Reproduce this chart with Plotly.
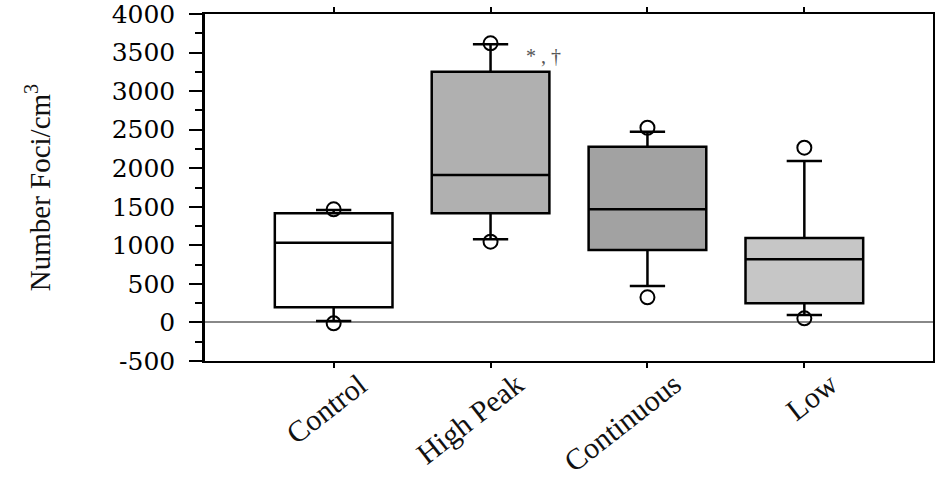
import plotly.graph_objects as go

categories = ["Control", "High Peak", "Continuous", "Low"]
q1 = [196, 1415, 939, 248]
median = [1034, 1912, 1467, 818]
q3 = [1415, 3252, 2279, 1095]
whisker_low = [18, 1078, 472, 96]
whisker_high = [1458, 3607, 2473, 2093]
point_low = [-12, 1047, 326, 53]
point_high = [1467, 3620, 2525, 2266]
fill_colors = ["#ffffff", "#b0b0b0", "#a2a2a2", "#c6c6c6"]
y_ticks = [-500, 0, 500, 1000, 1500, 2000, 2500, 3000, 3500, 4000]
y_tick_labels = ["-500", "0", "500", "1000", "1500", "2000", "2500", "3000", "3500", "4000"]

fig = go.Figure()
positions = list(range(len(categories)))
for i, cat in enumerate(categories):
    fig.add_trace(go.Box(
        x=[i], q1=[q1[i]], median=[median[i]], q3=[q3[i]],
        lowerfence=[whisker_low[i]], upperfence=[whisker_high[i]],
        width=0.75, whiskerwidth=0.3, fillcolor=fill_colors[i],
        line=dict(color="black", width=2.5), boxpoints=False,
        name=cat, showlegend=False, hoverinfo="skip"))

fig.add_trace(go.Scatter(
    x=positions + positions, y=point_low + point_high, mode="markers",
    marker=dict(symbol="circle-open", size=14, color="black", line=dict(width=2)),
    showlegend=False, hoverinfo="skip"))

fig.add_annotation(x=1.34, y=3455, text="* , †", showarrow=False,
                   font=dict(family="Liberation Serif", size=20, color="#555555"))

# category labels, rotated, placed at the x-axis category positions
for i, cat in enumerate(categories):
    fig.add_annotation(x=i, y=0, xref="x", yref="paper", text=cat, showarrow=False,
                       textangle=-38, xanchor="right", yanchor="top", xshift=42, yshift=-3,
                       font=dict(family="Liberation Serif", size=30, color="#111"))

fig.update_layout(
    width=935, height=480,
    margin=dict(l=205, r=2, t=14, b=119),
    paper_bgcolor="white", plot_bgcolor="white",
    font=dict(family="Liberation Serif", color="black"),
)
fig.update_xaxes(
    range=[-0.82, 3.82], tickmode="array", tickvals=positions, ticktext=categories,
    showticklabels=False,
    ticks="outside", ticklen=5, tickwidth=2, tickcolor="black",
    showline=True, linecolor="black", linewidth=2, mirror="ticks",
    showgrid=False, zeroline=False, automargin=False)
fig.update_yaxes(
    range=[-500, 4000], tickmode="array", tickvals=y_ticks, ticktext=y_tick_labels,
    tickfont=dict(family="DejaVu Serif", size=25, color="black"),
    ticklabelstandoff=9, ticklabeloverflow="allow",
    ticks="outside", ticklen=13, tickwidth=2, tickcolor="black",
    minor=dict(ticks="outside", ticklen=7, tickwidth=2, tickcolor="black", dtick=250, showgrid=False),
    showline=True, linecolor="black", linewidth=2.5, mirror="ticks",
    showgrid=False, zeroline=True, zerolinecolor="#888888", zerolinewidth=1.5, automargin=False,
    title=dict(text="Number Foci/cm<sup>3</sup>", font=dict(family="Liberation Serif", size=29, color="#111"), standoff=53))

fig.write_html("out.html")
